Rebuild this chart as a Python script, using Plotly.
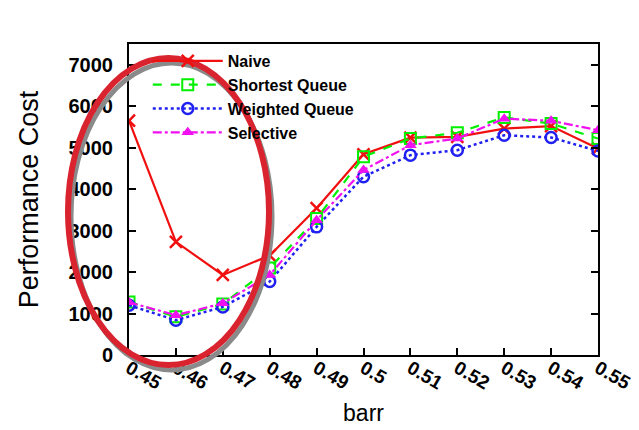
import plotly.graph_objects as go

barr = [0.45, 0.46, 0.47, 0.48, 0.49, 0.50, 0.51, 0.52, 0.53, 0.54, 0.55]
tick_labels = ["0.45", "0.46", "0.47", "0.48", "0.49", "0.5", "0.51", "0.52", "0.53", "0.54", "0.55"]
naive = [5650, 2730, 1930, 2400, 3540, 4840, 5240, 5260, 5460, 5520, 4980]
shortest = [1280, 920, 1230, 2100, 3290, 4780, 5220, 5360, 5730, 5580, 5220]
weighted = [1200, 840, 1160, 1770, 3090, 4300, 4820, 4940, 5300, 5245, 4920]
selective = [1270, 960, 1245, 1930, 3250, 4460, 5060, 5220, 5700, 5650, 5420]
y_ticks = [0, 1000, 2000, 3000, 4000, 5000, 6000, 7000]

FONT = "Liberation Sans"

fig = go.Figure()
fig.add_trace(go.Scatter(x=barr, y=naive, name="Naive", mode="lines+markers",
                         line=dict(color="#f01010", width=2.2, dash="solid"),
                         marker=dict(symbol="x-thin", size=12, line=dict(color="#f01010", width=2.5))))
fig.add_trace(go.Scatter(x=barr, y=shortest, name="Shortest Queue", mode="lines+markers",
                         line=dict(color="#00f000", width=2.2, dash="dash"),
                         marker=dict(symbol="square-open", size=11, color="#00f000", line=dict(width=2))))
fig.add_trace(go.Scatter(x=barr, y=weighted, name="Weighted Queue", mode="lines+markers",
                         line=dict(color="#2020f0", width=2.5, dash="dot"),
                         marker=dict(symbol="circle-open", size=11, color="#2020f0", line=dict(width=2.5))))
fig.add_trace(go.Scatter(x=barr, y=selective, name="Selective", mode="lines+markers",
                         line=dict(color="#f010f0", width=2.2, dash="dashdot"),
                         marker=dict(symbol="triangle-up", size=11, color="#f010f0")))

# decorative highlight ellipses (pixel -> paper conversion)
L, R, T, B = 129, 598, 44, 355
def px(x):
    return (x - L) / (R - L)
def py(y):
    return (B - y) / (B - T)

shapes = [
    dict(type="circle", xref="paper", yref="paper",
         x0=px(71), x1=px(272), y0=py(370), y1=py(63),
         line=dict(color="#8a8a8a", width=5), layer="above"),
    dict(type="circle", xref="paper", yref="paper",
         x0=px(68), x1=px(269), y0=py(365), y1=py(58),
         line=dict(color="#d9232e", width=6), layer="above"),
    dict(type="circle", xref="paper", yref="paper",
         x0=px(-90), x1=px(-2), y0=py(215), y1=py(100),
         line=dict(color="#d9232e", width=4), layer="above"),
]

fig.update_layout(
    width=639, height=430,
    margin=dict(l=L, r=639 - R, t=T, b=430 - B),
    paper_bgcolor="white", plot_bgcolor="white",
    font=dict(family=FONT, color="black"),
    showlegend=True,
    legend=dict(x=0.04, y=1.0, xanchor="left", yanchor="top",
                bgcolor="rgba(0,0,0,0)", font=dict(size=16, family=FONT, weight="bold"),
                tracegroupgap=0, itemwidth=70),
    shapes=shapes,
)
fig.update_xaxes(
    range=[0.45, 0.55], tickvals=barr, ticktext=tick_labels, tickangle=30,
    ticks="inside", ticklen=7, tickwidth=1.5, tickcolor="black",
    showline=True, linecolor="black", linewidth=2, mirror=True,
    showgrid=False, zeroline=False, automargin=False, ticklabelstandoff=-7,
    tickfont=dict(size=19, family=FONT, weight="bold"),
    title=dict(text="barr", font=dict(size=23, family=FONT), standoff=12),
)
fig.update_yaxes(
    range=[0, 7500], tickvals=y_ticks,
    ticks="inside", ticklen=7, tickwidth=1.5, tickcolor="black",
    showline=True, linecolor="black", linewidth=2, mirror="ticks",
    showgrid=False, zeroline=False, ticklabelstandoff=10, automargin=False,
    tickfont=dict(size=20, family=FONT, weight="bold"),
    title=dict(text="Performance Cost", font=dict(size=27, family=FONT), standoff=22),
)

fig.write_html("out.html")
